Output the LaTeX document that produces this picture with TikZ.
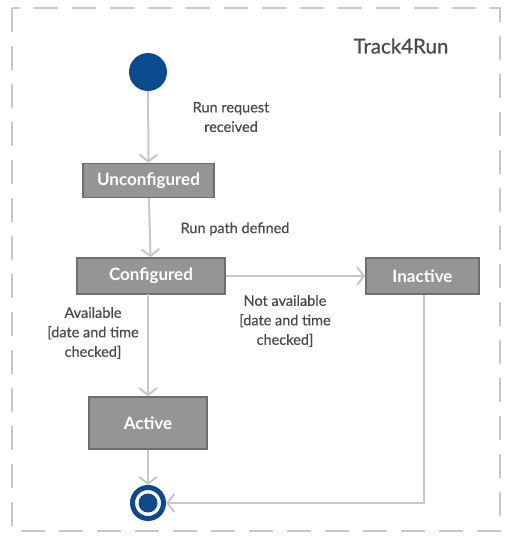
\documentclass[tikz,border=0pt]{standalone}
\usepackage{fontspec}
\setmainfont{Lato}
\newfontfamily\guardfont[FakeBold=0.5]{Lato}
\usetikzlibrary{arrows.meta}

\definecolor{umlblue}{HTML}{0B4A8C}
\definecolor{boxfill}{HTML}{959595}
\definecolor{boxline}{HTML}{6E6E6E}
\definecolor{flowline}{HTML}{C8C8C8}
\definecolor{labeltext}{HTML}{4A4A4A}

\tikzset{
  state/.style={draw=boxline,fill=boxfill,line width=1.5pt,text=white,
    font=\fontsize{17}{20}\selectfont\bfseries,inner sep=0pt},
  trans/.style={draw=flowline,line width=2pt,
    -{Straight Barb[length=7pt,width=18pt,line width=2pt]}},
  guard/.style={text=labeltext,font=\guardfont\fontsize{14.5}{19.5}\selectfont,align=center}
}

\begin{document}
\begin{tikzpicture}[x=1pt,y=-1pt]
    \useasboundingbox (0,0) rectangle (512,544);

    % --------------------------------------------------------- %
    % ------------- frame of the state machine
    % --------------------------------------------------------- %
    \draw[flowline,line width=2pt,dash pattern=on 24pt off 14pt] (12,8) rectangle (500,531);
    \node[text=labeltext,font=\guardfont\fontsize{20.5}{22}\selectfont] (titre) at (401,46) {Track4Run};

    % --------------------------------------------------------- %
    % ------------- states
    % --------------------------------------------------------- %
    \node[circle,fill=umlblue,minimum size=38pt,inner sep=0pt] (debut) at (148,72) {};
    \node[state,minimum width=131pt,minimum height=34pt] (unconf) at (148.5,180.5) {Unconfigured};
    \node[state,minimum width=148pt,minimum height=36pt] (conf) at (151,276) {Configured};
    \node[state,minimum width=113pt,minimum height=36pt] (inactif) at (422.5,276) {Inactive};
    \node[state,minimum width=118pt,minimum height=52pt] (actif) at (148,423) {Active};
    \node[circle,draw=umlblue,line width=5pt,fill=white,minimum size=31pt,inner sep=0pt,
      path picture={\fill[umlblue] (path picture bounding box.center) circle (9.5pt);}] (fin) at (148,503) {};

    % --------------------------------------------------------- %
    % ------------- transitions
    % --------------------------------------------------------- %
    \draw[trans] (debut) to (unconf);
    \node[guard] (lbl1) at (231,117) {Run request\\received};

    \draw[trans] (unconf) to (conf);
    \node[guard] (lbl2) at (235,229) {Run path defined};

    \draw[trans] (conf) to (inactif);
    \node[guard] (lbl3) at (285,321) {Not available\\{}[date and time\\checked]};

    \draw[trans] (148,294) to (actif);
    \node[guard] (lbl4) at (93,333) {Available\\{}[date and time\\checked]};

    \draw[trans] (actif) to (fin);
    \draw[trans] (inactif.south -| 424,0) |- (fin);

  \end{tikzpicture}
\end{document}
